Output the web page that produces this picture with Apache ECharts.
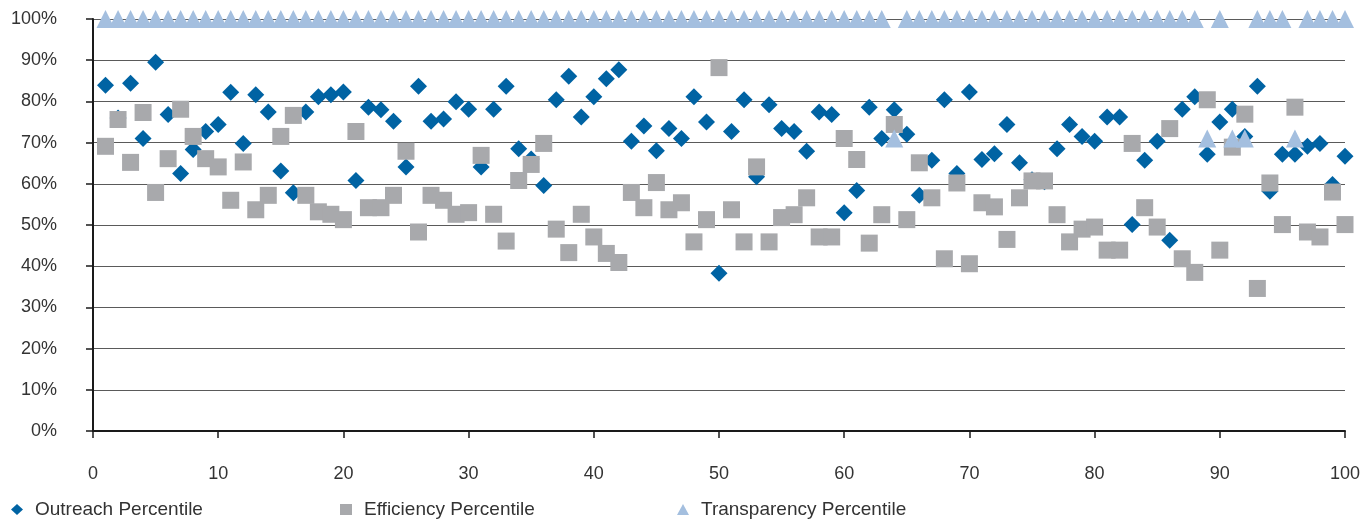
<!DOCTYPE html>
<html>
<head>
<meta charset="utf-8">
<script src="https://cdn.jsdelivr.net/npm/echarts@6.0.0/dist/echarts.min.js"></script>
<style>
    html, body { margin: 0; padding: 0; background: #fff; }
    #chart { width: 1366px; height: 520px; }
</style>
</head>
<body>
<div id="chart"></div>
<script>
// percentile values per rank, x = 1..100
let outreach = [
    83.9, 76, 84.4, 71.0, 89.5, 76.8, 62.5, 68.3, 72.7, 74.4,
    82.2, 69.8, 81.6, 77.4, 63.1, 57.8, 77.4, 81.1, 81.6, 82.3,
    60.8, 78.6, 78.0, 75.2, 64.1, 83.7, 75.2, 75.7, 79.9, 78.1,
    64.1, 78.1, 83.7, 68.5, 66, 59.6, 80.4, 86.1, 76.2, 81.1,
    85.5, 87.7, 70.3, 74.0, 68.0, 73.4, 71.0, 81.1, 75.0, 38.3,
    72.7, 80.4, 61.7, 79.2, 73.4, 72.7, 67.9, 77.4, 76.8, 53.0,
    58.4, 78.6, 71.0, 78.0, 72.0, 57.2, 65.7, 80.4, 62.5, 82.3,
    65.9, 67.3, 74.4, 65.1, 61, 60.5, 68.5, 74.4, 71.5, 70.3,
    76.2, 76.2, 50.1, 65.7, 70.3, 46.3, 78.1, 81.1, 67.2, 75.0,
    78.1, 71.5, 83.7, 58.2, 67.2, 67.2, 69.1, 69.8, 59.8, 66.7
];
let efficiency = [
    69.1, 75.6, 65.2, 77.3, 57.9, 66.1, 78.1, 71.5, 66.1, 64.1,
    56.0, 65.3, 53.7, 57.2, 71.5, 76.6, 57.2, 53.2, 52.6, 51.3,
    72.7, 54.2, 54.2, 57.2, 67.9, 48.3, 57.2, 56.0, 52.6, 53.0,
    66.9, 52.6, 46.1, 60.8, 64.7, 69.8, 49.0, 43.3, 52.6, 47.1,
    43.1, 40.9, 57.9, 54.2, 60.3, 53.7, 55.4, 45.9, 51.3, 88.2,
    53.7, 45.9, 64.1, 45.9, 51.8, 52.5, 56.6, 47.1, 47.1, 71.0,
    65.9, 45.6, 52.5, 74.4, 51.3, 65.1, 56.6, 41.8, 60.2, 40.6,
    55.4, 54.4, 46.5, 56.6, 60.7, 60.7, 52.5, 45.9, 49.0, 49.5,
    43.9, 43.9, 69.8, 54.2, 49.5, 73.4, 41.8, 38.5, 80.4, 43.9,
    68.9, 76.9, 34.6, 60.2, 50.1, 78.6, 48.3, 47.1, 58.0, 50.1
];
let transparency = [
    100, 100, 100, 100, 100, 100, 100, 100, 100, 100,
    100, 100, 100, 100, 100, 100, 100, 100, 100, 100,
    100, 100, 100, 100, 100, 100, 100, 100, 100, 100,
    100, 100, 100, 100, 100, 100, 100, 100, 100, 100,
    100, 100, 100, 100, 100, 100, 100, 100, 100, 100,
    100, 100, 100, 100, 100, 100, 100, 100, 100, 100,
    100, 100, 100, 71, 100, 100, 100, 100, 100, 100,
    100, 100, 100, 100, 100, 100, 100, 100, 100, 100,
    100, 100, 100, 100, 100, 100, 100, 100, 71, 100,
    71, 71, 100, 100, 100, 71, 100, 100, 100, 100
];
let xTicks = [0, 10, 20, 30, 40, 50, 60, 70, 80, 90, 100];
let yTicks = [0, 10, 20, 30, 40, 50, 60, 70, 80, 90, 100];

let toPoints = (arr) => arr.map((v, i) => [i + 1, v]);

let font = '"Liberation Sans", Arial, sans-serif';
let textColor = '#333';

let legendBase = {
    orient: 'horizontal',
    top: 500,
    padding: 0,
    itemWidth: 12,
    itemHeight: 11,
    textStyle: { fontFamily: font, fontSize: 19, color: textColor, padding: [0, 0, 0, 7] }
};

let option = {
    animation: false,
    backgroundColor: '#fff',
    grid: { left: 93, right: 21, top: 19, bottom: 89, containLabel: false },
    legend: [
        Object.assign({}, legendBase, { left: 11, data: [{ name: 'Outreach Percentile', icon: 'diamond' }] }),
        Object.assign({}, legendBase, { left: 340, data: [{ name: 'Efficiency Percentile', icon: 'rect' }] }),
        Object.assign({}, legendBase, { left: 677, data: [{ name: 'Transparency Percentile', icon: 'triangle' }] })
    ],
    xAxis: {
        type: 'value',
        min: xTicks[0],
        max: xTicks[xTicks.length - 1],
        interval: 10,
        axisLine: { show: true, onZero: false, lineStyle: { color: '#1a1a1a', width: 2 } },
        axisTick: { show: true, inside: false, length: 7, lineStyle: { color: '#1a1a1a', width: 1.5 } },
        splitLine: { show: false },
        axisLabel: { margin: 34, fontFamily: font, fontSize: 18, color: textColor }
    },
    yAxis: {
        type: 'value',
        min: yTicks[0],
        max: yTicks[yTicks.length - 1],
        interval: 10,
        axisLine: { show: true, lineStyle: { color: '#1a1a1a', width: 2 } },
        axisTick: { show: true, inside: false, length: 7, lineStyle: { color: '#1a1a1a', width: 1.5 } },
        splitLine: { show: true, lineStyle: { color: '#5a5a5a', width: 1 } },
        axisLabel: { margin: 36, fontFamily: font, fontSize: 18, color: textColor, formatter: '{value}%' }
    },
    series: [
        {
            name: 'Outreach Percentile',
            type: 'scatter',
            symbol: 'diamond',
            symbolSize: [17, 17],
            itemStyle: { color: '#0063a3', opacity: 1 },
            data: toPoints(outreach)
        },
        {
            name: 'Efficiency Percentile',
            type: 'scatter',
            symbol: 'rect',
            symbolSize: 17,
            itemStyle: { color: '#a8a9ac', opacity: 1 },
            data: toPoints(efficiency)
        },
        {
            name: 'Transparency Percentile',
            type: 'scatter',
            symbol: 'triangle',
            symbolSize: 18,
            itemStyle: { color: '#a4bfdf', opacity: 1 },
            data: toPoints(transparency)
        }
    ]
};

let myChart = echarts.init(document.getElementById('chart'), null, { renderer: 'canvas' });
myChart.setOption(option);
</script>
</body>
</html>
